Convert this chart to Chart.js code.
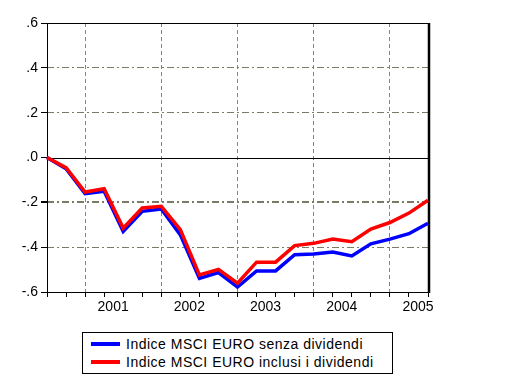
<!DOCTYPE html>
<html>
<head>
<meta charset="utf-8">
<script src="https://cdn.jsdelivr.net/npm/chart.js@4/dist/chart.umd.min.js"></script>
<style>
  html, body { margin: 0; padding: 0; background: #fff; }
  #wrap { position: relative; width: 512px; height: 384px; }
  #legend {
    position: absolute; left: 82px; top: 332px; width: 309px; height: 40px;
    border: 1px solid #000; background: #fff;
    font-family: "Liberation Sans", Arial, sans-serif; font-size: 14px;
    letter-spacing: 0.5px; color: #000;
  }
  #legend .row { position: absolute; left: 0; height: 18px; line-height: 18px; white-space: nowrap; }
  #legend .swatch { position: absolute; left: 8px; top: 7px; width: 29px; height: 4px; }
  #legend .txt { position: absolute; left: 43px; top: 0; }
</style>
</head>
<body>
<div id="wrap">
  <canvas id="chart" width="512" height="384"></canvas>
  <div id="legend"></div>
</div>
<script>
// trimestri, dal 3° trim. 2000 al 3° trim. 2005
var quarters = ['2000Q3', '2000Q4',
    '2001Q1', '2001Q2', '2001Q3', '2001Q4',
    '2002Q1', '2002Q2', '2002Q3', '2002Q4',
    '2003Q1', '2003Q2', '2003Q3', '2003Q4',
    '2004Q1', '2004Q2', '2004Q3', '2004Q4',
    '2005Q1', '2005Q2', '2005Q3'];

var senzaDividendi = [0, -0.05, -0.161, -0.151, -0.33, -0.24, -0.23, -0.345, -0.539, -0.513, -0.578,
    -0.506, -0.506, -0.434, -0.43, -0.422, -0.439, -0.385, -0.364, -0.34, -0.293];
var inclusiDividendi = [0, -0.045, -0.154, -0.139, -0.315, -0.225, -0.218, -0.322, -0.524, -0.499, -0.561,
    -0.467, -0.467, -0.393, -0.383, -0.364, -0.376, -0.319, -0.29, -0.248, -0.191];

var yTicks = [-0.6, -0.4, -0.2, 0, 0.2, 0.4, 0.6];
var yTickLabels = ['-.6', '-.4', '-.2', '.0', '.2', '.4', '.6'];

var seriesNames = ['Indice MSCI EURO senza dividendi', 'Indice MSCI EURO inclusi i dividendi'];
var seriesColors = ['#0000ff', '#ff0000'];

var axisFont = { family: '"Liberation Sans", Arial, sans-serif', size: 14 };

// cornice, linea dello zero
var framePlugin = {
    id: 'frame',
    beforeDatasetsDraw: function (chart) {
        var ctx = chart.ctx;
        var a = chart.chartArea;
        var y0 = chart.scales.y.getPixelForValue(0);
        ctx.save();
        ctx.strokeStyle = '#000';
        ctx.lineWidth = 1;
        ctx.beginPath();
        ctx.moveTo(a.left, Math.round(y0) + 0.5);
        ctx.lineTo(a.right, Math.round(y0) + 0.5);
        ctx.stroke();
        ctx.strokeRect(a.left + 0.5, a.top + 0.5, a.right - a.left, a.bottom - a.top);
        ctx.lineWidth = 2.5;
        ctx.beginPath();
        ctx.moveTo(a.right + 1, a.top);
        ctx.lineTo(a.right + 1, a.bottom + 1);
        ctx.stroke();
        ctx.restore();
    }
};

var ctx = document.getElementById('chart').getContext('2d');
var chart = new Chart(ctx, {
    type: 'line',
    data: {
        labels: quarters,
        datasets: [{
            label: seriesNames[0],
            data: senzaDividendi,
            borderColor: seriesColors[0],
            borderWidth: 3.5,
            pointRadius: 0,
            tension: 0,
            order: 1
        }, {
            label: seriesNames[1],
            data: inclusiDividendi,
            borderColor: seriesColors[1],
            borderWidth: 3.5,
            pointRadius: 0,
            tension: 0,
            order: 0
        }]
    },
    options: {
        responsive: false,
        animation: false,
        layout: { padding: { left: 0, top: 23, right: 84, bottom: 0 } },
        plugins: {
            legend: { display: false },
            tooltip: { enabled: false }
        },
        scales: {
            x: {
                type: 'category',
                offset: false,
                afterFit: function (scale) { scale.height = 92; },
                grid: {
                    color: function (c) {
                        var lab = quarters[c.index] || '';
                        return (lab.slice(-2) === 'Q1') ? '#80809a' : 'rgba(0,0,0,0)';
                    },
                    tickColor: '#000',
                    tickLength: 5
                },
                border: { display: false, dash: [4, 3] },
                ticks: {
                    autoSkip: false,
                    maxRotation: 0,
                    padding: 2,
                    labelOffset: 9,
                    color: '#000',
                    font: axisFont,
                    callback: function (v, i) {
                        var lab = quarters[i];
                        return lab.slice(-2) === 'Q2' ? lab.slice(0, 4) : '';
                    }
                }
            },
            y: {
                min: -0.6,
                max: 0.6,
                afterFit: function (scale) { scale.width = 47; },
                afterBuildTicks: function (scale) {
                    scale.ticks = yTicks.map(function (v) { return { value: v }; });
                },
                grid: {
                    color: function (c) {
                        if (c.tick && Math.abs(c.tick.value) < 1e-9) return 'rgba(0,0,0,0)';
                        return '#7a7a66';
                    },
                    lineWidth: function (c) {
                        return (c.tick && Math.abs(c.tick.value + 0.2) < 1e-9) ? 2 : 1;
                    },
                    tickColor: '#000',
                    tickLength: 6
                },
                border: { display: false, dash: [7, 3, 2, 3] },
                ticks: {
                    padding: 3,
                    color: '#000',
                    font: { family: '"Liberation Sans", Arial, sans-serif', size: 14 },
                    callback: function (v) {
                        for (var i = 0; i < yTicks.length; i++) {
                            if (Math.abs(yTicks[i] - v) < 1e-9) return yTickLabels[i];
                        }
                        return '';
                    }
                }
            }
        }
    },
    plugins: [framePlugin]
});

// legenda
var legend = document.getElementById('legend');
seriesNames.forEach(function (name, i) {
    var row = document.createElement('div');
    row.className = 'row';
    row.style.top = (2 + i * 18) + 'px';
    row.innerHTML = '<span class="swatch" style="background:' + seriesColors[i] + '"></span>' +
        '<span class="txt">' + name + '</span>';
    legend.appendChild(row);
});
</script>
</body>
</html>
